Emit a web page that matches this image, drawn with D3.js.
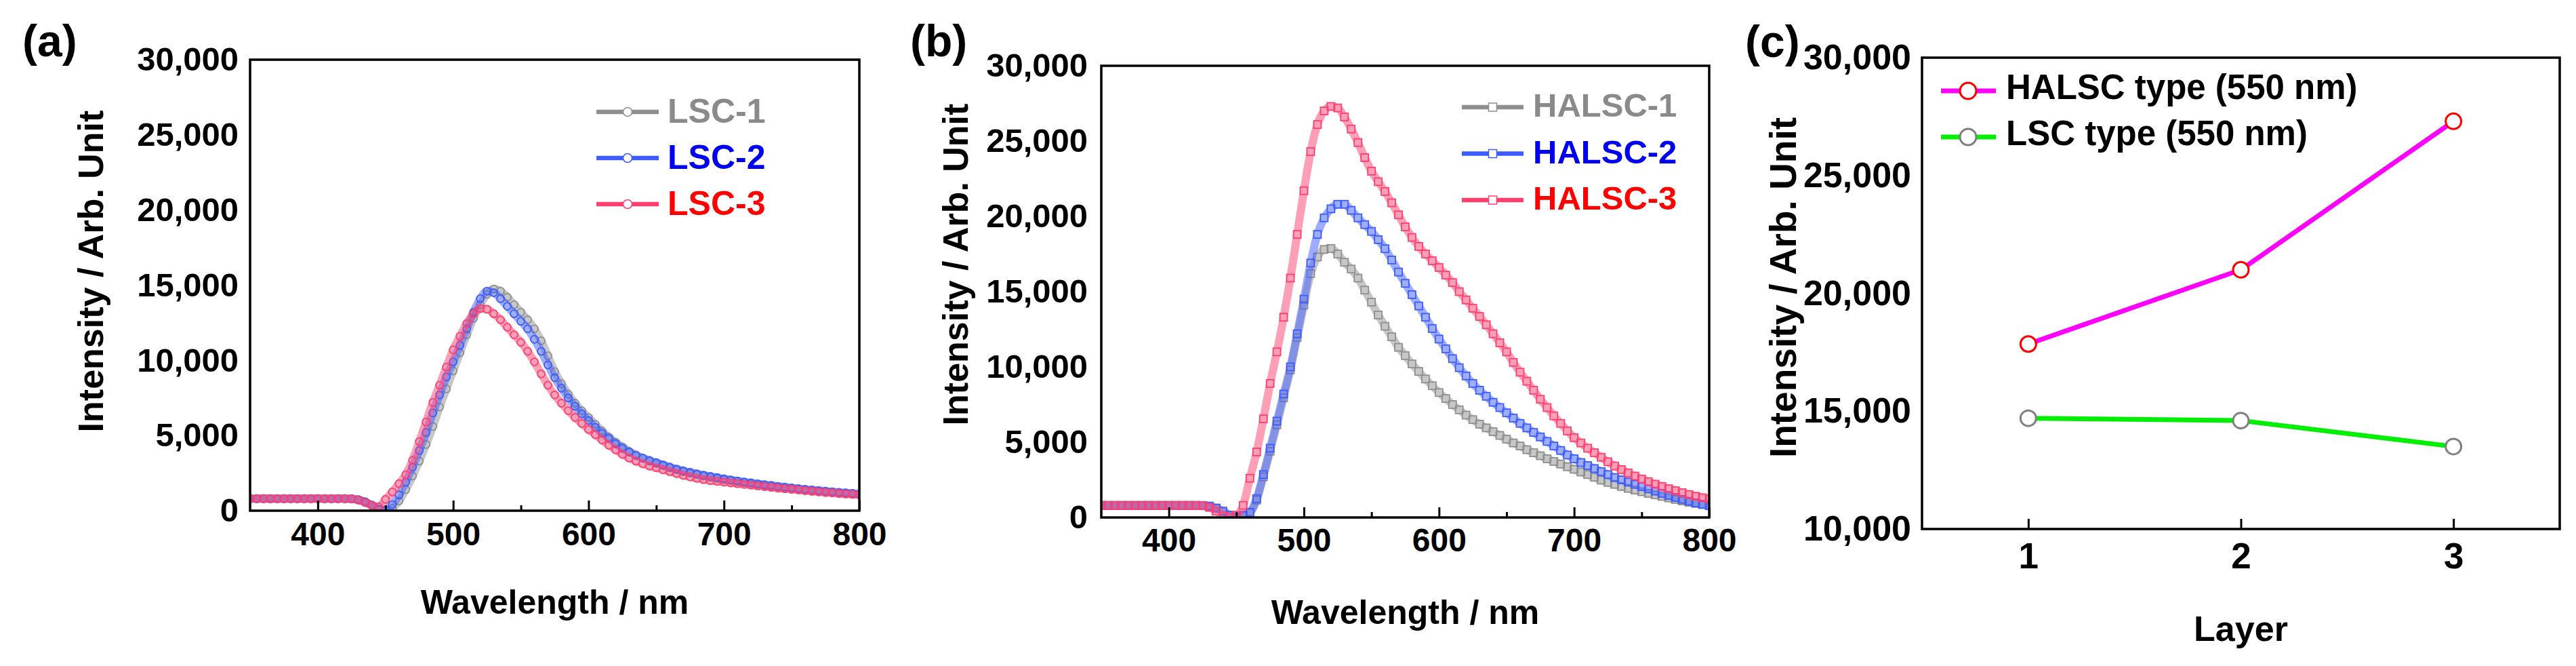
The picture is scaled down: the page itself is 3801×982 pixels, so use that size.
<!DOCTYPE html>
<html>
<head>
<meta charset="utf-8">
<script src="https://cdn.jsdelivr.net/npm/d3@7"></script>
<style>
  body { margin: 0; background: #fff; }
  svg text { font-family: "Liberation Sans", Arial, Helvetica, sans-serif; font-weight: bold; }
</style>
</head>
<body>
<div class="chart"></div>
<script>
// wavelength grid (nm), 5 nm steps
var wavelength = [
  350,355,360,365,370,375,380,385,390,395,
  400,405,410,415,420,425,430,435,440,445,
  450,455,460,465,470,475,480,485,490,495,
  500,505,510,515,520,525,530,535,540,545,
  550,555,560,565,570,575,580,585,590,595,
  600,605,610,615,620,625,630,635,640,645,
  650,655,660,665,670,675,680,685,690,695,
  700,705,710,715,720,725,730,735,740,745,
  750,755,760,765,770,775,780,785,790,795,
  800
];

// (a) LSC spectra
var lsc1 = [
  800,800,800,800,800,800,800,800,800,800,
  800,800,800,800,800,790,740,600,380,130,
  20,150,650,1400,2300,3300,4400,5600,6900,8100,
  9300,10500,11700,12800,13700,14400,14750,14600,14200,13700,
  13200,12700,12100,11300,10300,9250,8450,7750,7150,6650,
  6200,5750,5300,4900,4550,4250,3950,3700,3500,3300,
  3150,3000,2850,2720,2600,2500,2400,2310,2220,2140,
  2060,2000,1930,1870,1800,1740,1680,1630,1570,1520,
  1480,1430,1380,1340,1300,1260,1220,1180,1150,1110,
  1080
];
var lsc2 = [
  800,800,800,800,800,800,800,800,800,800,
  800,800,800,800,800,790,730,580,350,100,
  50,400,1050,1900,2900,4000,5200,6500,7700,8900,
  9900,11000,12100,13200,14100,14600,14500,14100,13600,13100,
  12600,12100,11400,10600,9700,8850,8150,7500,6950,6450,
  6000,5550,5150,4800,4450,4150,3900,3680,3500,3340,
  3200,3050,2900,2770,2650,2550,2450,2360,2280,2200,
  2120,2050,1980,1910,1850,1790,1730,1680,1620,1570,
  1520,1470,1420,1380,1340,1300,1260,1220,1190,1150,
  1120
];
var lsc3 = [
  800,800,800,800,800,800,800,800,800,800,
  800,800,800,800,800,780,700,540,340,260,
  750,1250,1800,2400,3350,4600,5900,7200,8350,9550,
  10700,11600,12450,13100,13450,13400,13100,12700,12200,11700,
  11200,10600,9900,9100,8350,7700,7150,6650,6200,5800,
  5400,5050,4700,4350,4050,3750,3500,3300,3120,2970,
  2850,2720,2600,2470,2350,2250,2150,2070,2000,1950,
  1900,1850,1800,1750,1700,1650,1600,1550,1500,1460,
  1420,1380,1330,1290,1250,1210,1180,1140,1110,1080,
  1060
];

// (b) HALSC spectra
var halsc1 = [
  800,800,800,800,800,800,800,800,800,800,
  800,800,800,800,800,790,740,600,400,150,
  30,100,300,1150,2700,4400,6150,7950,9800,11950,
  14100,16200,17300,17800,17870,17500,16950,16500,15900,15100,
  14300,13450,12700,12000,11300,10750,10200,9700,9200,8750,
  8300,7900,7500,7150,6800,6500,6200,5950,5700,5450,
  5200,4950,4750,4500,4300,4100,3900,3720,3550,3370,
  3200,3020,2850,2670,2480,2330,2200,2060,1930,1820,
  1710,1600,1500,1400,1300,1200,1100,1010,930,860,
  800
];
var halsc2 = [
  800,800,800,800,800,800,800,800,800,800,
  800,800,800,800,800,800,760,630,420,150,
  30,150,350,1250,2850,4600,6400,8200,10000,12200,
  14500,16900,18800,19900,20500,20800,20800,20400,19900,19450,
  19000,18450,17850,17100,16300,15550,14800,14050,13300,12550,
  11850,11200,10550,9950,9400,8900,8450,8050,7650,7300,
  6950,6600,6250,5950,5650,5350,5050,4750,4450,4150,
  3900,3650,3450,3250,3050,2850,2650,2500,2350,2200,
  2050,1900,1750,1600,1460,1330,1200,1080,970,870,
  780
];
var halsc3 = [
  800,800,800,800,800,800,800,800,800,800,
  800,800,800,800,800,780,670,420,120,20,
  150,800,2600,4350,6550,8900,11000,13300,15900,18800,
  21700,24300,26100,27000,27300,27200,26600,25800,24900,23900,
  23000,22300,21650,20900,20100,19300,18600,18000,17500,17050,
  16600,16100,15600,15000,14450,13900,13350,12800,12200,11600,
  11000,10300,9650,9050,8450,7850,7300,6750,6250,5750,
  5300,4950,4600,4300,4000,3700,3420,3180,2960,2750,
  2560,2380,2210,2060,1910,1780,1650,1520,1410,1310,
  1220
];

// (c) intensity vs layer
var layers = [1, 2, 3];
var halscType = [17850, 21000, 27300];
var lscType = [14700, 14600, 13500];

// ticks
var intensityTicks = [0, 5000, 10000, 15000, 20000, 25000, 30000];
var wavelengthTicks = [400, 500, 600, 700, 800];
var wavelengthMinor = [450, 550, 650, 750];
var layerIntensityTicks = [10000, 15000, 20000, 25000, 30000];

var svgWidth = 3801;
var svgHeight = 982;

var svg = d3.select(".chart")
  .append("svg")
  .attr("width", svgWidth)
  .attr("height", svgHeight);

var comma = d3.format(",");

function styleAxis(axisGroup, fontSize) {
  axisGroup.attr("font-size", fontSize).attr("font-family", null);
  axisGroup.select(".domain").remove();
  axisGroup.selectAll(".tick line").attr("stroke", "#000").attr("stroke-width", 3);
  axisGroup.selectAll(".tick text").attr("fill", "#000");
}

// Spectrum panel (a) and (b)
function spectrumPanel(p) {
  var x = d3.scaleLinear().domain([350, 800]).range([p.left, p.right]);
  var y = d3.scaleLinear().domain([0, 30000]).range([p.bottom, p.top]);

  svg.append("clipPath")
    .attr("id", p.id + "-clip")
    .append("rect")
    .attr("x", p.left).attr("y", p.top)
    .attr("width", p.right - p.left).attr("height", p.bottom - p.top);

  var plot = svg.append("g").attr("clip-path", `url(#${p.id}-clip)`);

  var line = d3.line()
    .x((d, i) => x(wavelength[i]))
    .y(d => y(d))
    .curve(d3.curveMonotoneX);

  p.series.forEach(function(s) {
    var sg = plot.append("g");
    // dense band under the symbols, as the 1 nm symbols overlap in the original
    sg.append("path")
      .datum(s.values)
      .attr("d", line)
      .attr("fill", "none")
      .attr("stroke", s.color)
      .attr("stroke-width", 12)
      .attr("stroke-opacity", 0.5)
      .attr("stroke-linejoin", "round");

    if (p.marker === "circle") {
      sg.selectAll("circle")
        .data(s.values)
        .enter()
        .append("circle")
        .attr("cx", (d, i) => x(wavelength[i]))
        .attr("cy", d => y(d))
        .attr("r", 5.5)
        .attr("fill", "none")
        .attr("stroke", s.color)
        .attr("stroke-width", 1.8);
    } else {
      sg.selectAll("rect")
        .data(s.values)
        .enter()
        .append("rect")
        .attr("x", (d, i) => x(wavelength[i]) - 5.5)
        .attr("y", d => y(d) - 5.5)
        .attr("width", 11)
        .attr("height", 11)
        .attr("fill", "none")
        .attr("stroke", s.color)
        .attr("stroke-width", 1.8);
    }
  });

  // axes
  var xAxis = svg.append("g")
    .attr("transform", `translate(0, ${p.bottom})`)
    .call(d3.axisBottom(x).tickValues(wavelengthTicks).tickSizeInner(-15).tickSizeOuter(0).tickPadding(p.xPad));
  styleAxis(xAxis, 48);

  var xMinor = svg.append("g")
    .attr("transform", `translate(0, ${p.bottom})`)
    .call(d3.axisBottom(x).tickValues(wavelengthMinor).tickSizeInner(-8).tickSizeOuter(0).tickFormat(""));
  styleAxis(xMinor, 10);

  var yAxis = svg.append("g")
    .attr("transform", `translate(${p.left}, 0)`)
    .call(d3.axisLeft(y).tickValues(intensityTicks).tickSize(0).tickPadding(p.yPad).tickFormat(comma));
  styleAxis(yAxis, 49);

  // frame
  svg.append("rect")
    .attr("x", p.left).attr("y", p.top)
    .attr("width", p.right - p.left).attr("height", p.bottom - p.top)
    .attr("fill", "none")
    .attr("stroke", "#000")
    .attr("stroke-width", 3.5);

  // axis titles
  svg.append("text")
    .attr("transform", `translate(${p.yTitleX}, ${p.yTitleY}) rotate(-90)`)
    .attr("text-anchor", "middle")
    .attr("font-size", 52)
    .text("Intensity / Arb. Unit");

  svg.append("text")
    .attr("x", (p.left + p.right) / 2)
    .attr("y", p.xTitleY)
    .attr("text-anchor", "middle")
    .attr("font-size", 50)
    .text("Wavelength / nm");

  svg.append("text")
    .attr("x", p.letterX)
    .attr("y", 83)
    .attr("font-size", 66)
    .text(p.letter);

  // legend
  p.series.forEach(function(s, i) {
    var ly = p.legend.y0 + i * p.legend.dy;
    svg.append("line")
      .attr("x1", p.legend.x0).attr("x2", p.legend.x1)
      .attr("y1", ly).attr("y2", ly)
      .attr("stroke", s.color)
      .attr("stroke-width", 6.5);
    var mx = (p.legend.x0 + p.legend.x1) / 2;
    if (p.marker === "circle") {
      svg.append("circle")
        .attr("cx", mx).attr("cy", ly).attr("r", 6.5)
        .attr("fill", "#fff").attr("stroke", s.color).attr("stroke-width", 1.5);
    } else {
      svg.append("rect")
        .attr("x", mx - 6).attr("y", ly - 6).attr("width", 12).attr("height", 12)
        .attr("fill", "#fff").attr("stroke", s.color).attr("stroke-width", 1.5);
    }
    svg.append("text")
      .attr("x", p.legend.tx)
      .attr("y", ly + p.legend.base)
      .attr("font-size", p.legend.size)
      .attr("fill", s.textColor)
      .text(s.name);
  });
}

spectrumPanel({
  id: "a", letter: "(a)", letterX: 33,
  left: 369, right: 1268, top: 88, bottom: 753,
  xPad: 17, yPad: 17,
  yTitleX: 152, yTitleY: 400, xTitleY: 905,
  marker: "circle",
  legend: { x0: 880, x1: 972, y0: 165, dy: 68, tx: 985, base: 16, size: 50 },
  series: [
    { name: "LSC-1", values: lsc1, color: "#8f8f8f", textColor: "#8a8a8a" },
    { name: "LSC-2", values: lsc2, color: "#3d5cff", textColor: "#0000f0" },
    { name: "LSC-3", values: lsc3, color: "#ff3f6f", textColor: "#ff0000" }
  ]
});

spectrumPanel({
  id: "b", letter: "(b)", letterX: 1343,
  left: 1625, right: 2522, top: 97, bottom: 763,
  xPad: 16, yPad: 20,
  yTitleX: 1428, yTitleY: 390, xTitleY: 920,
  marker: "square",
  legend: { x0: 2157, x1: 2248, y0: 158, dy: 68.5, tx: 2262, base: 14, size: 49 },
  series: [
    { name: "HALSC-1", values: halsc1, color: "#8f8f8f", textColor: "#8a8a8a" },
    { name: "HALSC-2", values: halsc2, color: "#3d5cff", textColor: "#0000f0" },
    { name: "HALSC-3", values: halsc3, color: "#ff3f6f", textColor: "#ff0000" }
  ]
});

// Panel (c): intensity at 550 nm vs layer
var c = { left: 2836, right: 3777, top: 85, bottom: 780 };

var xLayer = d3.scaleLinear().domain([0.5, 3.5]).range([c.left, c.right]);
var yLayer = d3.scaleLinear().domain([10000, 30000]).range([c.bottom, c.top]);

var layerSeries = [
  { name: "HALSC type (550 nm)", values: halscType, line: "#ff00ff", marker: "#ff0000" },
  { name: "LSC type (550 nm)", values: lscType, line: "#00ee00", marker: "#808080" }
];

var layerLine = d3.line()
  .x((d, i) => xLayer(layers[i]))
  .y(d => yLayer(d));

layerSeries.forEach(function(s) {
  svg.append("path")
    .datum(s.values)
    .attr("d", layerLine)
    .attr("fill", "none")
    .attr("stroke", s.line)
    .attr("stroke-width", 7);

  svg.selectAll(null)
    .data(s.values)
    .enter()
    .append("circle")
    .attr("cx", (d, i) => xLayer(layers[i]))
    .attr("cy", d => yLayer(d))
    .attr("r", 11.5)
    .attr("fill", "#fff")
    .attr("stroke", s.marker)
    .attr("stroke-width", 3);
});

var xLayerAxis = svg.append("g")
  .attr("transform", `translate(0, ${c.bottom})`)
  .call(d3.axisBottom(xLayer).tickValues(layers).tickSizeInner(-15).tickSizeOuter(0).tickPadding(20).tickFormat(d3.format("d")));
styleAxis(xLayerAxis, 53);

var yLayerAxis = svg.append("g")
  .attr("transform", `translate(${c.left}, 0)`)
  .call(d3.axisLeft(yLayer).tickValues(layerIntensityTicks).tickSize(0).tickPadding(16).tickFormat(comma));
styleAxis(yLayerAxis, 52);

svg.append("rect")
  .attr("x", c.left).attr("y", c.top)
  .attr("width", c.right - c.left).attr("height", c.bottom - c.top)
  .attr("fill", "none")
  .attr("stroke", "#000")
  .attr("stroke-width", 3.5);

svg.append("text")
  .attr("transform", `translate(2650, 424) rotate(-90)`)
  .attr("text-anchor", "middle")
  .attr("font-size", 55)
  .text("Intensity / Arb. Unit");

svg.append("text")
  .attr("x", xLayer(2))
  .attr("y", 945)
  .attr("text-anchor", "middle")
  .attr("font-size", 52)
  .text("Layer");

svg.append("text")
  .attr("x", 2575)
  .attr("y", 84)
  .attr("font-size", 66)
  .text("(c)");

// legend (c)
layerSeries.forEach(function(s, i) {
  var ly = 134 + i * 68;
  svg.append("line")
    .attr("x1", 2864).attr("x2", 2945)
    .attr("y1", ly).attr("y2", ly)
    .attr("stroke", s.line)
    .attr("stroke-width", 7);
  svg.append("circle")
    .attr("cx", 2904).attr("cy", ly).attr("r", 12)
    .attr("fill", "#fff").attr("stroke", s.marker).attr("stroke-width", 3);
  svg.append("text")
    .attr("x", 2960)
    .attr("y", ly + 12)
    .attr("font-size", 51)
    .attr("fill", "#000")
    .text(s.name);
});
</script>
</body>
</html>
